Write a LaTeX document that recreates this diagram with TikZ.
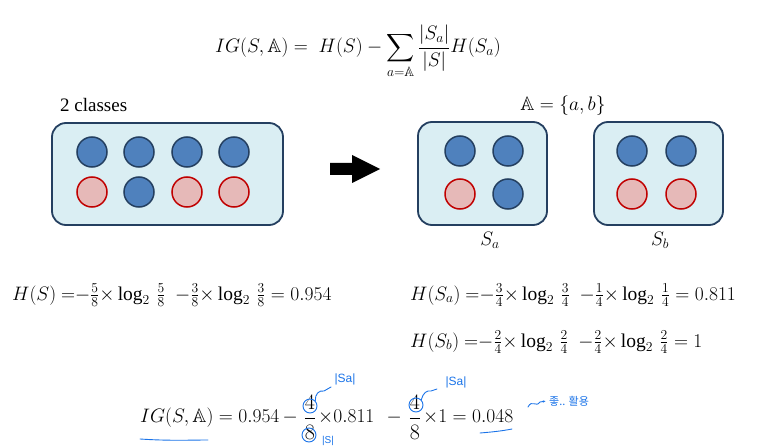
\RequirePackage{fix-cm}
\documentclass[tikz,border=0pt]{standalone}
\usepackage{amsmath,amssymb}
\usepackage{fontspec}
\setmainfont{Liberation Serif}
\newfontfamily\krfont{Noto Sans CJK KR}
\newfontfamily\handfont{Liberation Sans}
\usetikzlibrary{arrows.meta}
\definecolor{boxfill}{HTML}{DAEEF3}
\definecolor{boxline}{HTML}{243F60}
\definecolor{ballblue}{HTML}{4F81BD}
\definecolor{ballpink}{HTML}{E6B9B8}
\definecolor{ballred}{HTML}{C00000}
\definecolor{hand}{HTML}{1A73E8}
\begin{document}
\begin{tikzpicture}[x=1pt,y=-1pt,
  grp/.style={draw=boxline, line width=1.8pt, fill=boxfill, rounded corners=14pt, inner sep=0pt},
  bball/.style={circle, draw=boxline, fill=ballblue, line width=1.5pt, minimum size=30pt, inner sep=0pt},
  rball/.style={circle, draw=ballred, fill=ballpink, line width=1.5pt, minimum size=30pt, inner sep=0pt},
  formula/.style={inner sep=0pt, font=\fontsize{19.5}{23}\selectfont},
  fracf/.style={inner sep=0pt, font=\fontsize{22}{26}\selectfont},
  hform/.style={inner sep=0pt, font=\fontsize{19.5}{24}\selectfont},
  lbl/.style={inner sep=0pt, font=\fontsize{19}{22}\selectfont},
  handline/.style={draw=hand, line width=0.9pt, line cap=round, line join=round},
  handring/.style={handline, circle, minimum size=14pt, inner sep=0pt},
  handtext/.style={inner sep=0pt, text=hand, font=\handfont\fontsize{12}{13}\selectfont}]
\useasboundingbox (0,0) rectangle (773,446);

% top definition
\node[formula, anchor=base] (igdef) at (358,53)
  {$\displaystyle IG(S,\mathbb{A}) = \; H(S) - \sum_{a=\mathbb{A}} \frac{|S_a|}{|S|}H(S_a)$};

% left set
\node[lbl, anchor=base west] (cls) at (60,112) {2 classes};
\node[grp, minimum width=231pt, minimum height=102pt] (S) at (167.5,174) {};
\node[bball] (s11) at (92,152) {};
\node[bball] (s12) at (139,152) {};
\node[bball] (s13) at (187,152) {};
\node[bball] (s14) at (234,152) {};
\node[rball] (s21) at (92,192) {};
\node[bball] (s22) at (139,192) {};
\node[rball] (s23) at (187,192) {};
\node[rball] (s24) at (234,192) {};

% arrow
\fill[black] (330,163) -- (352,163) -- (352,155) -- (380,169) -- (352,183) -- (352,175) -- (330,175) -- cycle;

% right sets
\node[formula, anchor=base] (attr) at (563,111) {$\mathbb{A} = \{a,b\}$};
\node[grp, minimum width=129pt, minimum height=103pt] (Sa) at (482.5,173.5) {};
\node[bball] (a11) at (460,151) {};
\node[bball] (a12) at (508,151) {};
\node[rball] (a21) at (460,194) {};
\node[bball] (a22) at (508,194) {};
\node[grp, minimum width=129pt, minimum height=103pt] (Sb) at (658.5,173.5) {};
\node[bball] (b11) at (632,151) {};
\node[bball] (b12) at (681,151) {};
\node[rball] (b21) at (632,194) {};
\node[rball] (b22) at (681,194) {};
\node[formula, anchor=base] (laba) at (490,246) {$S_a$};
\node[formula, anchor=base] (labb) at (660,246) {$S_b$};

% entropies
\node[hform, anchor=base west] (hs) at (12,300)
  {$H(S)\ {=}{-}\tfrac{5}{8}{\times}\log_2\,\tfrac{5}{8}\ \ {-}\tfrac{3}{8}{\times}\log_2\,\tfrac{3}{8} = 0.954$};
\node[hform, anchor=base west] (hsa) at (410,300)
  {$H(S_a)\ {=}{-}\tfrac{3}{4}{\times}\log_2\,\tfrac{3}{4}\ \ {-}\tfrac{1}{4}{\times}\log_2\,\tfrac{1}{4} = 0.811$};
\node[hform, anchor=base west] (hsb) at (410,347)
  {$H(S_b)\ {=}{-}\tfrac{2}{4}{\times}\log_2\,\tfrac{2}{4}\ \ {-}\tfrac{2}{4}{\times}\log_2\,\tfrac{2}{4} = 1$};

% information gain
\node[formula, anchor=base west] (ig1) at (140,422) {$IG(S,\mathbb{A}) = 0.954\, -$};
\node[fracf, anchor=base] (f1) at (310,424) {$\dfrac{4}{8}$};
\node[formula, anchor=base west] (ig2) at (318,422) {${\times}0.811$};
\node[formula, anchor=base east] (ig3) at (402,422) {$-$};
\node[fracf, anchor=base] (f2) at (415,424) {$\dfrac{4}{8}$};
\node[formula, anchor=base west] (ig4) at (423,422) {${\times}1 = 0.048$};

% handwritten annotations
\node[handring] (c4a) at (310,406) {};
\node[handring] (c8a) at (309,435) {};
\node[handring] (c4b) at (416,405) {};
\node[handtext] (sa1) at (345,379) {|Sa|};
\node[handtext] (sa2) at (456,382) {|Sa|};
\node[handtext, anchor=north, font=\handfont\fontsize{10}{11}\selectfont] (s1) at (328,436) {|S|};
\draw[handline] (c4a.north east) .. controls (315,394) and (319,390) .. (324,391) -- (331,387);
\draw[handline] (c4b.north east) .. controls (423,393) and (427,390) .. (431,391) -- (437,389);
\draw[handline] (140,439) .. controls (170,441) and (190,440) .. (208,440);
\draw[handline] (480,433) .. controls (492,432) and (502,431) .. (512,429);
\coordinate (kstart) at (528,407);
\draw[handline, -{Latex[length=3pt]}] (kstart) .. controls (532,399) and (536,408) .. (540,402) -- (546,401);
\node[inner sep=0pt, text=hand, anchor=west, font=\krfont\fontsize{11}{12}\selectfont] (kr) at (549,401) {좋.. 활용};
\end{tikzpicture}
\end{document}
